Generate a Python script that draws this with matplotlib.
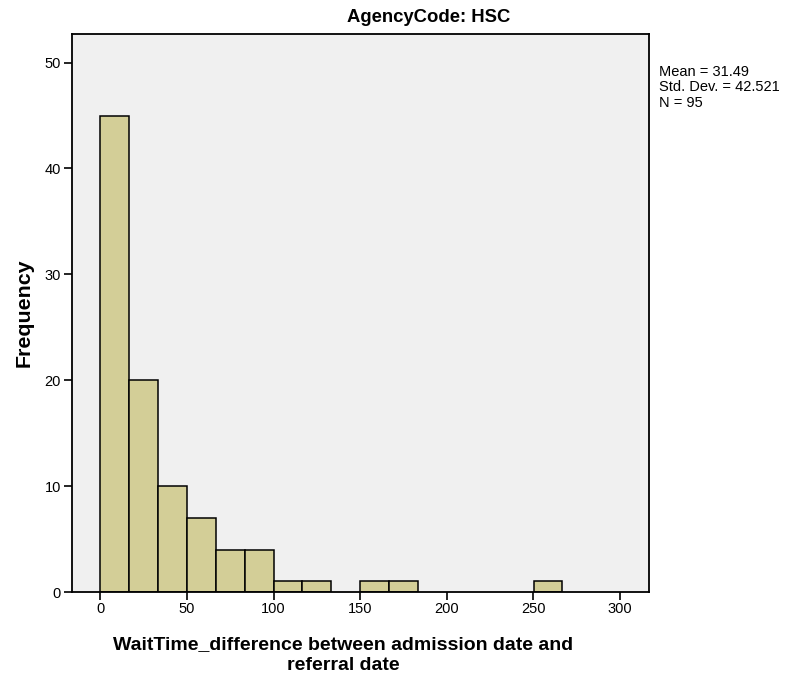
import numpy as np
import matplotlib
matplotlib.use('Agg')
import matplotlib.pyplot as plt

plt.rcParams['font.family'] = ['Liberation Sans', 'DejaVu Sans']

# histogram data (bin width = 50/3 days, starting at 0)
bin_width = 50 / 3
counts = [45, 20, 10, 7, 4, 4, 1, 1, 0, 1, 1, 0, 0, 0, 0, 1]
x_ticks = [0, 50, 100, 150, 200, 250, 300]
y_ticks = [0, 10, 20, 30, 40, 50]
stats_text = 'Mean = 31.49\nStd. Dev. = 42.521\nN = 95'

counts = np.array(counts)
lefts = np.arange(len(counts)) * bin_width
keep = counts > 0

fig = plt.figure(figsize=(7.85, 6.8), dpi=100)
ax = fig.add_axes([71.5 / 785, 88 / 680, (649 - 71.5) / 785, (592 - 34) / 680])
ax.set_facecolor('#f0f0f0')

ax.bar(lefts[keep], counts[keep], width=bin_width, align='edge',
       color='#d3ce97', edgecolor='black', linewidth=1.1)

ax.set_xlim(-bin_width, 300 + bin_width)
ax.set_ylim(0, 52.7)
ax.set_xticks(x_ticks)
ax.set_yticks(y_ticks)
ax.tick_params(direction='out', length=5.5, width=1.2, labelsize=10.5, pad=2, colors='black')
for s in ax.spines.values():
    s.set_linewidth(1.3)

ax.set_ylabel('Frequency', fontsize=15.4, fontweight='bold', labelpad=8)

fig.text(429 / 785, 1 - 18 / 680, 'AgencyCode: HSC', ha='center', va='center',
         fontsize=13.3, fontweight='bold')
fig.text(343 / 785, 1 - 655 / 680,
         'WaitTime_difference between admission date and\nreferral date',
         ha='center', va='center', fontsize=14, fontweight='bold', linespacing=1.3)
fig.text(659 / 785, 1 - 65 / 680, stats_text, ha='left', va='top',
         fontsize=10.5, linespacing=1.13)

fig.savefig('out.png', dpi=100)
